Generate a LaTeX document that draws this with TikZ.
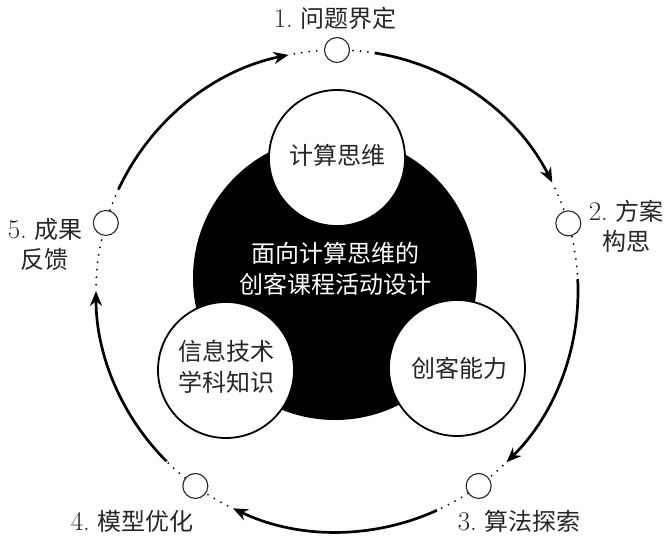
\documentclass[tikz,border=0pt]{standalone}
\usepackage{fontspec}
\newfontfamily\cjk{Noto Sans CJK SC}
\usetikzlibrary{arrows.meta,calc}
\newcommand{\stepnum}[1]{{\rmfamily\fontsize{27}{30}\selectfont #1}}
\begin{document}
\begin{tikzpicture}[x=1pt,y=1pt,
  smallc/.style={circle,draw=black!85,line width=1.1pt,minimum size=25pt,inner sep=0pt,fill=white},
  bigw/.style={circle,draw=black,line width=1.8pt,fill=white,minimum size=136pt,inner sep=0pt},
  txt/.style={font=\cjk\fontsize{24}{31}\selectfont,align=center,inner sep=0pt,text=black!85},
  lab/.style={font=\cjk\fontsize{24}{30}\selectfont,align=center,inner sep=0pt,text=black!85},
  flow/.style={line width=2.7pt,-{Stealth[length=15pt,width=12pt]}},
  dots/.style={line width=2pt,line cap=round,dash pattern=on 0pt off 7.5pt},
]
\useasboundingbox (0,0) rectangle (669,537);
\coordinate (C) at (337,246);
\def\R{241}
% core
\node[circle,fill=black,minimum size=284pt,inner sep=0pt] (core) at (335,259) {};
\node[bigw] (ct) at (337,379) {};
\node[bigw] (cl) at (226,167) {};
\node[bigw] (cr) at (457,169) {};
\node[txt] (tct) at (337,382) {计算思维};
\node[txt] (tcl) at (226,170) {信息技术\\学科知识};
\node[txt] (tcr) at (459,169) {创客能力};
\node[txt,text=white] (title) at (335,268) {面向计算思维的\\创客课程活动设计};
% stage circles
\node[smallc] (s1) at ($(C)+(90:\R)$) {};
\node[smallc] (s2) at ($(C)+(16.3:\R)$) {};
\node[smallc] (s3) at ($(C)+(-54:\R)$) {};
\node[smallc] (s4) at ($(C)+(-126:\R)$) {};
\node[smallc] (s5) at ($(C)+(163.6:\R)$) {};
% labels
\node[lab] (l1) at (335,519) {\stepnum{1.} 问题界定};
\node[lab] (l2) at (626,311) {\stepnum{2.} 方案\\构思};
\node[lab] (l3) at (519,16) {\stepnum{3.} 算法探索};
\node[lab] (l4) at (132,16) {\stepnum{4.} 模型优化};
\node[lab] (l5) at (45,293) {\stepnum{5.} 成果\\反馈};
% arc end points
\coordinate (a1s) at ($(C)+(81:\R)$);
\coordinate (a1e) at ($(C)+(26.7:\R)$);
\coordinate (a2s) at ($(C)+(2.8:\R)$);
\coordinate (a2e) at ($(C)+(-45.3:\R)$);
\coordinate (a3s) at ($(C)+(-65.5:\R)$);
\coordinate (a3e) at ($(C)+(-115.6:\R)$);
\coordinate (a4s) at ($(C)+(-135:\R)$);
\coordinate (a4e) at ($(C)+(-180:\R)$);
\coordinate (a5s) at ($(C)+(155:\R)$);
\coordinate (a5e) at ($(C)+(101.6:\R)$);
% solid flows
\draw[flow] (a1s) arc[start angle=81,end angle=26.7,radius=\R];
\draw[flow] (a2s) arc[start angle=2.8,end angle=-45.3,radius=\R];
\draw[flow] (a3s) arc[start angle=-65.5,end angle=-115.6,radius=\R];
\draw[flow] (a4s) arc[start angle=-135,end angle=-180,radius=\R];
\draw[flow] (a5s) arc[start angle=155,end angle=101.6,radius=\R];
% dotted joins
\draw[dots] ($(C)+(86.2:\R)$) arc[start angle=86.2,end angle=81,radius=\R];
\draw[dots] ($(C)+(25.2:\R)$) arc[start angle=25.2,end angle=19.6,radius=\R];
\draw[dots] ($(C)+(13:\R)$) arc[start angle=13,end angle=2.8,radius=\R];
\draw[dots] ($(C)+(-46.5:\R)$) arc[start angle=-46.5,end angle=-51,radius=\R];
\draw[dots] ($(C)+(-57.1:\R)$) arc[start angle=-57.1,end angle=-65.5,radius=\R];
\draw[dots] ($(C)+(-117:\R)$) arc[start angle=-117,end angle=-123,radius=\R];
\draw[dots] ($(C)+(-129.1:\R)$) arc[start angle=-129.1,end angle=-135,radius=\R];
\draw[dots] ($(C)+(-181.5:\R)$) arc[start angle=-181.5,end angle=-193,radius=\R];
\draw[dots] ($(C)+(160.4:\R)$) arc[start angle=160.4,end angle=155,radius=\R];
\draw[dots] ($(C)+(100.2:\R)$) arc[start angle=100.2,end angle=93.4,radius=\R];
\end{tikzpicture}
\end{document}
